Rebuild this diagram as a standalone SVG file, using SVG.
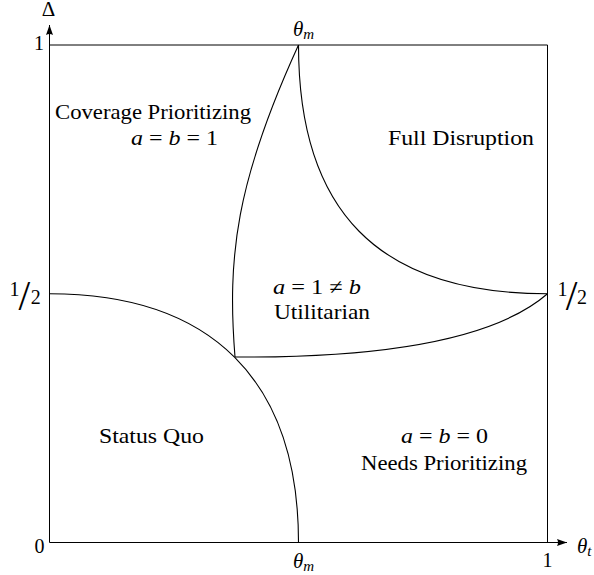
<svg xmlns="http://www.w3.org/2000/svg" width="594" height="575" viewBox="0 0 594 575">
<style>
.t{font-family:'Liberation Serif','Times New Roman',serif;font-size:21px;fill:#000}
.m{font-style:italic}
.d{font-family:'Liberation Serif','Times New Roman',serif;font-size:20px;fill:#000}
.s{font-family:'Liberation Serif','Times New Roman',serif;font-size:42px;fill:#000}
.ax{stroke:#000;stroke-width:1;fill:none}
.cv{stroke:#000;stroke-width:1.1;fill:none}
</style>
<defs>
<marker id="arr" viewBox="0 0 10 7" refX="10" refY="3.5" markerWidth="10" markerHeight="7" markerUnits="userSpaceOnUse" orient="auto">
<path d="M0,0 L10,3.5 L0,7 Q2,3.5 0,0 z" fill="#000"/>
</marker>
</defs>
<rect width="594" height="575" fill="#fff"/>
<g id="axes">
<line class="ax" x1="49.5" y1="542.5" x2="49.5" y2="25" marker-end="url(#arr)"/>
<line class="ax" x1="49.5" y1="542.5" x2="567" y2="542.5" marker-end="url(#arr)"/>
<line class="ax" x1="49.5" y1="45" x2="547.5" y2="45"/>
<line class="ax" x1="547.5" y1="45" x2="547.5" y2="542.5"/>
<text class="t" x="48.5" y="16" font-size="19" text-anchor="middle">Δ</text>
<text class="t m" x="577" y="553">θ<tspan font-size="15" dy="3">t</tspan></text>
<text class="d" x="39" y="49.5" text-anchor="middle">1</text>
<text class="d" x="39.5" y="553" text-anchor="middle">0</text>
<text class="d" x="547.5" y="567" text-anchor="middle">1</text>
<text class="t m" x="293" y="36">θ<tspan font-size="15" dy="2.6">m</tspan></text>
<text class="t m" x="293" y="568">θ<tspan font-size="15" dy="2.6">m</tspan></text>
<g id="half-left">
<text class="d" x="14.5" y="296" text-anchor="middle">1</text>
<text class="s" x="24.3" y="310" text-anchor="middle">/</text>
<text class="d" x="35.7" y="304" text-anchor="middle">2</text>
</g>
<g id="half-right">
<text class="d" x="562.5" y="296" text-anchor="middle">1</text>
<text class="s" x="571.7" y="310" text-anchor="middle">/</text>
<text class="d" x="582" y="304" text-anchor="middle">2</text>
</g>
</g>
<g id="connectors">
<path class="cv" d="M49.5,293.75 C211.5,293.75 298.5,380.5 298.5,542.5"/>
<path class="cv" d="M298.5,45 C236,181.5 227,257 235,357"/>
<path class="cv" d="M298.5,45 C298.5,210 377,293.75 547.5,293.75"/>
<path class="cv" d="M235,357 C400,358 500,335 547.5,293.75"/>
</g>
<g id="coverage">
<text class="t" x="55" y="119" textLength="196" lengthAdjust="spacingAndGlyphs">Coverage Prioritizing</text>
<text class="t" x="131" y="145" textLength="87" lengthAdjust="spacingAndGlyphs"><tspan class="m">a</tspan> = <tspan class="m">b</tspan> = 1</text>
</g>
<g id="full">
<text class="t" x="388" y="145" textLength="146" lengthAdjust="spacingAndGlyphs">Full Disruption</text>
</g>
<g id="utilitarian">
<text class="t" x="273" y="294" textLength="88" lengthAdjust="spacingAndGlyphs"><tspan class="m">a</tspan> = 1 ≠ <tspan class="m">b</tspan></text>
<text class="t" x="274" y="319" textLength="96" lengthAdjust="spacingAndGlyphs">Utilitarian</text>
</g>
<g id="statusquo">
<text class="t" x="99" y="443" textLength="105" lengthAdjust="spacingAndGlyphs">Status Quo</text>
</g>
<g id="needs">
<text class="t" x="401" y="443" textLength="87" lengthAdjust="spacingAndGlyphs"><tspan class="m">a</tspan> = <tspan class="m">b</tspan> = 0</text>
<text class="t" x="361" y="470" textLength="166" lengthAdjust="spacingAndGlyphs">Needs Prioritizing</text>
</g>
</svg>
